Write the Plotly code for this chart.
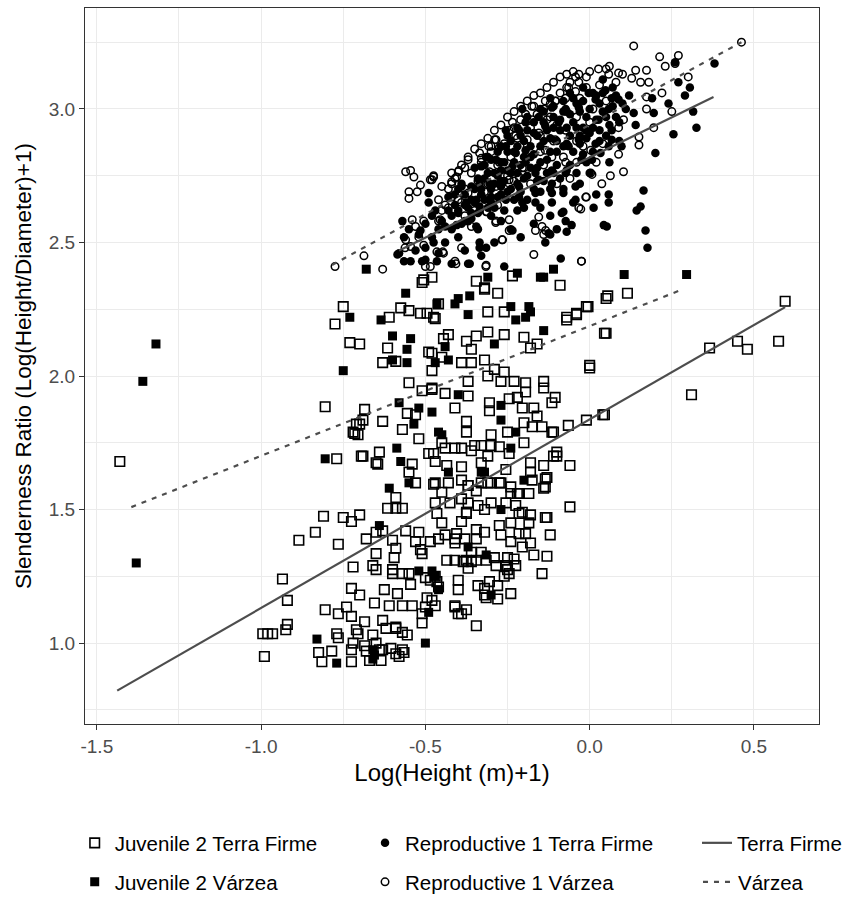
import plotly.graph_objects as go

# ---------------- data ----------------
juv_tf_pts = [
    (-1.43, 1.68), (-0.995, 1.035), (-0.98, 1.035), (-0.965, 1.035), (-0.99, 0.95), (-0.935, 1.24), (-0.92, 1.16),
    (-0.92, 1.07), (-0.925, 1.05), (-0.885, 1.385), (-0.835, 1.415), (-0.81, 1.475), (-0.765, 1.37), (-0.75, 1.47),
    (-0.725, 1.455), (-0.70, 1.48), (-0.805, 1.125), (-0.765, 1.11), (-0.74, 1.135), (-0.725, 1.10), (-0.685, 1.08),
    (-0.72, 1.285), (-0.68, 1.39), (-0.65, 1.335), (-0.66, 1.29), (-0.65, 1.275), (-0.725, 1.205), (-0.70, 1.18),
    (-0.655, 1.15), (-0.61, 1.14), (-0.625, 1.20), (-0.585, 1.185), (-0.57, 1.14), (-0.54, 1.14), (-0.60, 1.26),
    (-0.57, 1.26), (-0.545, 1.22), (-0.615, 1.505), (-0.59, 1.505), (-0.57, 1.505), (-0.59, 1.545), (-0.60, 1.385),
    (-0.59, 1.355), (-0.595, 1.32), (-0.65, 1.415), (-0.63, 1.42), (-0.56, 1.42), (-0.52, 1.415), (-0.53, 1.38),
    (-0.515, 1.35), (-0.485, 1.38), (-0.46, 1.39), (-0.51, 1.335), (-0.60, 1.275), (-0.55, 1.26), (-0.50, 1.245),
    (-0.485, 1.235), (-0.465, 1.23), (-0.46, 1.21), (-0.495, 1.17), (-0.48, 1.16), (-0.50, 1.135), (-0.51, 1.11),
    (-0.51, 1.075), (-0.47, 1.14), (-0.47, 1.25), (-0.45, 1.565), (-0.47, 1.525), (-0.465, 1.485), (-0.45, 1.45),
    (-0.44, 1.405), (-0.41, 1.39), (-0.41, 1.375), (-0.435, 1.31), (-0.41, 1.31), (-0.385, 1.305), (-0.40, 1.235),
    (-0.40, 1.20), (-0.41, 1.14), (-0.39, 1.11), (-0.375, 1.125), (-0.345, 1.065), (-0.37, 1.59), (-0.39, 1.54),
    (-0.375, 1.49), (-0.39, 1.455), (-0.345, 1.425), (-0.32, 1.415), (-0.38, 1.39), (-0.345, 1.39), (-0.36, 1.34),
    (-0.33, 1.34), (-0.345, 1.31), (-0.315, 1.31), (-0.29, 1.32), (-0.285, 1.29), (-0.255, 1.29), (-0.23, 1.315),
    (-0.245, 1.26), (-0.37, 1.28), (-0.34, 1.215), (-0.32, 1.205), (-0.28, 1.215), (-0.24, 1.185), (-0.315, 1.17),
    (-0.32, 1.18), (-0.28, 1.165), (-0.41, 1.135), (-0.40, 1.11), (-0.425, 1.525), (-0.33, 1.60), (-0.27, 1.60),
    (-0.24, 1.585), (-0.215, 1.56), (-0.225, 1.515), (-0.205, 1.49), (-0.18, 1.48), (-0.185, 1.45), (-0.195, 1.41),
    (-0.18, 1.375), (-0.205, 1.36), (-0.17, 1.33), (-0.13, 1.47), (-0.12, 1.405), (-0.13, 1.325), (-0.145, 1.26),
    (-0.06, 1.51), (-0.135, 1.585), (-0.24, 1.56),
    (-0.57, 1.04), (-0.59, 1.06), (-0.555, 1.03), (-0.65, 1.00), (-0.63, 0.975), (-0.605, 0.98), (-0.59, 0.96),
    (-0.57, 0.975), (-0.58, 0.95), (-0.825, 0.965), (-0.815, 0.93), (-0.785, 0.97), (-0.725, 0.975), (-0.725, 0.93),
    (-0.72, 1.00), (-0.705, 1.035), (-0.685, 0.99), (-0.68, 0.97), (-0.67, 0.935), (-0.64, 0.975), (-0.635, 0.935),
    (-0.77, 1.035), (-0.765, 1.02), (-0.71, 1.05), (-0.66, 1.03), (-0.62, 1.055), (-0.63, 1.085), (-0.59, 1.055),
    (-0.565, 0.965),
    (-0.275, 1.44), (-0.27, 1.405), (-0.24, 1.45), (-0.215, 1.41), (-0.24, 1.38), (-0.215, 1.485), (-0.185, 1.56),
    (-0.175, 1.61), (-0.30, 1.60), (-0.345, 1.57), (-0.37, 1.525), (-0.34, 1.515), (-0.32, 1.50), (-0.30, 1.525),
    (-0.255, 1.525), (-0.375, 1.485), (-0.405, 1.41), (-0.375, 1.31), (-0.36, 1.305), (-0.25, 1.32), (-0.225, 1.29),
    (-0.25, 1.275), (-0.26, 1.25), (-0.305, 1.23),
    (-0.75, 2.26), (-0.775, 2.195), (-0.73, 2.125), (-0.70, 2.12), (-0.505, 2.36), (-0.575, 2.255), (-0.55, 2.245),
    (-0.61, 2.22), (-0.515, 2.235), (-0.495, 2.235), (-0.47, 2.215), (-0.46, 2.27), (-0.615, 2.105), (-0.63, 2.05),
    (-0.59, 2.055), (-0.49, 2.09), (-0.48, 2.02), (-0.45, 2.07), (-0.55, 1.975), (-0.51, 1.945), (-0.48, 1.955),
    (-0.805, 1.885), (-0.685, 1.875), (-0.69, 1.835), (-0.71, 1.82), (-0.72, 1.79), (-0.705, 1.78), (-0.63, 1.83),
    (-0.555, 1.86), (-0.53, 1.855), (-0.57, 1.80), (-0.52, 1.765), (-0.69, 1.70), (-0.64, 1.715), (-0.77, 1.69),
    (-0.645, 1.67), (-0.54, 1.67), (-0.49, 1.71), (-0.55, 1.64), (-0.53, 1.60), (-0.475, 1.595),
    (-0.28, 2.31), (-0.32, 2.33), (-0.31, 2.24), (-0.26, 2.24), (-0.475, 2.22), (-0.005, 2.26), (-0.04, 2.235),
    (-0.07, 2.22), (0.05, 2.29), (0.05, 2.16), (0.0, 2.04), (-0.31, 2.165), (-0.26, 2.155), (-0.20, 2.145),
    (-0.345, 2.15), (-0.16, 2.12), (-0.18, 2.105), (-0.43, 2.155), (-0.445, 2.14), (-0.375, 2.13), (-0.36, 2.10),
    (-0.32, 2.06), (-0.48, 2.085), (-0.39, 2.05), (-0.36, 2.05), (-0.29, 2.025), (-0.26, 2.015), (-0.31, 2.00),
    (-0.27, 1.98), (-0.37, 1.98), (-0.23, 1.98), (-0.195, 1.975), (-0.14, 1.98), (-0.14, 1.955), (-0.195, 1.94),
    (-0.105, 1.92), (-0.245, 1.915), (-0.22, 1.92), (-0.48, 1.95), (-0.44, 1.935), (-0.37, 1.925), (-0.41, 1.88),
    (-0.305, 1.90), (-0.305, 1.87), (-0.205, 1.88), (-0.17, 1.88), (-0.16, 1.85), (-0.145, 1.81), (-0.175, 1.81),
    (-0.375, 1.83), (-0.375, 1.79), (-0.30, 1.78), (-0.25, 1.79), (-0.20, 1.825), (-0.115, 1.79), (-0.065, 1.815),
    (-0.01, 1.835), (0.04, 1.855), (-0.10, 1.715), (-0.10, 1.70), (-0.06, 1.665), (-0.14, 1.665), (-0.18, 1.675),
    (-0.20, 1.75), (-0.45, 1.75), (-0.44, 1.73), (-0.41, 1.73), (-0.39, 1.73), (-0.35, 1.74), (-0.33, 1.74),
    (-0.30, 1.74), (-0.275, 1.735), (-0.36, 1.72), (-0.475, 1.71), (-0.47, 1.68), (-0.435, 1.665), (-0.39, 1.66),
    (-0.31, 1.70), (-0.245, 1.71), (-0.255, 1.65), (-0.18, 1.64), (-0.135, 1.615), (-0.14, 1.58), (-0.47, 1.60),
    (-0.43, 1.60), (-0.39, 1.61), (-0.37, 1.59), (-0.31, 1.60), (-0.275, 1.60), (-0.22, 1.56), (-0.33, 1.675),
    (-0.09, 2.34), (0.055, 2.30), (0.115, 2.31), (-0.01, 2.26), (-0.04, 2.23), (-0.07, 2.21), (0.045, 2.16),
    (0.0, 2.03), (0.595, 2.28), (0.575, 2.13), (0.45, 2.13), (0.48, 2.10), (0.365, 2.105), (0.31, 1.93),
    (0.045, 1.855), (-0.11, 1.79), (-0.115, 1.90), (-0.11, 1.70), (-0.13, 1.62), (-0.135, 1.47),
    (-0.51, 2.35), (-0.48, 2.37), (-0.345, 2.355), (-0.32, 2.325), (-0.235, 2.375),
    (-0.695, 1.70), (-0.65, 1.675), (-0.715, 1.785), (-0.70, 1.82),
]

juv_vz_pts = [
    (-1.36, 1.98), (-1.32, 2.12), (-1.38, 1.30),
    (-0.56, 2.31), (-0.73, 2.22), (-0.635, 2.21), (-0.60, 2.15), (-0.545, 2.14), (-0.556, 2.10), (-0.556, 2.05),
    (-0.60, 2.06), (-0.75, 2.02), (-0.58, 1.90), (-0.52, 1.88), (-0.48, 1.865), (-0.535, 1.82), (-0.805, 1.69),
    (-0.587, 1.73), (-0.575, 1.68), (-0.55, 1.60), (-0.61, 1.58), (-0.47, 2.05), (-0.465, 2.27), (-0.46, 1.79),
    (-0.44, 2.11), (-0.365, 2.30), (-0.40, 2.29), (-0.41, 2.27), (-0.37, 2.23), (-0.24, 2.26), (-0.185, 2.26),
    (-0.18, 2.24), (-0.195, 2.22), (-0.225, 2.21), (-0.14, 2.17), (-0.29, 2.12), (-0.43, 2.06), (-0.40, 1.93),
    (-0.27, 1.89), (-0.27, 1.835), (-0.45, 1.78), (-0.225, 1.79), (-0.24, 1.73), (-0.20, 1.61), (-0.33, 1.64),
    (-0.43, 1.64), (-0.14, 2.37), (-0.11, 2.40), (0.105, 2.38), (0.295, 2.38), (-0.68, 2.40), (-0.31, 2.37),
    (-0.22, 2.385), (-0.15, 2.37), (-0.64, 1.44), (-0.83, 1.015), (-0.77, 0.925), (-0.52, 1.27), (-0.48, 1.27),
    (-0.27, 1.50), (-0.50, 1.00), (-0.66, 0.94), (-0.66, 0.975), (-0.37, 1.36), (-0.315, 1.33), (-0.49, 1.115),
    (-0.32, 1.64), (-0.47, 1.25), (-0.46, 1.20), (-0.655, 0.955), (-0.30, 1.18),
]

rep_tf_pts = [
    (0.26, 3.175), (0.27, 3.10), (0.305, 3.08), (0.29, 3.05), (0.24, 3.02), (0.315, 2.99), (0.325, 2.93),
    (0.255, 2.905), (0.20, 2.835), (0.38, 3.17), (0.134, 2.985), (0.195, 2.985), (0.19, 3.04), (0.097, 2.86),
    (0.058, 2.86), (0.164, 2.695), (0.155, 2.635), (0.143, 2.62), (0.17, 2.545), (0.176, 2.48), (0.058, 2.68),
    (0.058, 2.65), (0.012, 2.63), (0.052, 2.56), (0.043, 2.565), (-0.055, 2.565), (-0.073, 2.58), (-0.08, 2.615),
    (-0.07, 2.54), (-0.088, 2.44), (-0.125, 2.535), (-0.135, 2.50), (-0.235, 2.545), (-0.26, 2.41), (-0.345, 2.56),
    (-0.335, 2.50), (-0.315, 2.48), (-0.37, 2.42), (-0.49, 2.685), (-0.49, 2.65), (-0.57, 2.58), (-0.565, 2.52),
    (-0.58, 2.46), (-0.565, 2.43), (-0.545, 2.43), (-0.50, 2.435), (-0.475, 2.50), (-0.465, 2.43), (-0.515, 2.545),
    (-0.405, 2.565), (-0.38, 2.58), (-0.375, 2.65), (-0.345, 2.66), (-0.39, 2.71), (-0.335, 2.72), (-0.305, 2.72),
    (-0.27, 2.71), (-0.27, 2.77), (-0.215, 2.71), (-0.205, 2.65), (-0.165, 2.65), (-0.115, 2.65), (-0.08, 2.685),
    (-0.043, 2.71), (-0.043, 2.66), (-0.115, 2.72), (-0.155, 2.735), (-0.225, 2.835), (-0.195, 2.845),
    (-0.255, 2.86), (-0.215, 2.92), (-0.195, 2.95), (-0.155, 2.97), (-0.115, 3.005), (-0.073, 3.00), (-0.033, 3.005),
    (-0.003, 3.06), (0.018, 3.035), (0.048, 3.07), (0.067, 3.04), (0.088, 3.035), (0.058, 3.00), (0.027, 2.96),
    (-0.012, 2.92), (-0.033, 2.885), (-0.064, 2.86), (-0.094, 2.95), (-0.135, 2.935), (-0.073, 2.76),
    (-0.115, 2.77), (-0.165, 2.76), (-0.195, 2.80), (-0.235, 2.785), (-0.285, 2.81), (-0.315, 2.82), (-0.33, 2.785),
    (-0.255, 2.92), (-0.205, 3.00), (0.018, 2.87), (0.033, 2.835), (0.007, 2.81), (-0.025, 2.81), (0.067, 2.92),
    (0.067, 2.885), (-0.115, 2.685), (-0.165, 2.685), (-0.215, 2.67), (-0.255, 2.66), (-0.30, 2.65),
    (-0.335, 2.635), (-0.36, 2.61), (-0.40, 2.61), (-0.585, 2.455), (-0.51, 2.43), (-0.42, 2.42), (-0.365, 2.42),
    (-0.335, 2.48), (-0.085, 2.61), (-0.12, 2.53),
    (-0.40, 2.62), (-0.38, 2.64), (-0.36, 2.66), (-0.35, 2.70), (-0.33, 2.68), (-0.32, 2.74), (-0.31, 2.63),
    (-0.30, 2.70), (-0.29, 2.76), (-0.28, 2.67), (-0.27, 2.73), (-0.26, 2.80), (-0.25, 2.69), (-0.24, 2.76),
    (-0.23, 2.84), (-0.22, 2.72), (-0.21, 2.79), (-0.20, 2.88), (-0.20, 2.63), (-0.19, 2.75), (-0.18, 2.82),
    (-0.17, 2.91), (-0.17, 2.70), (-0.16, 2.78), (-0.15, 2.86), (-0.14, 2.95), (-0.14, 2.73), (-0.13, 2.81),
    (-0.12, 2.89), (-0.11, 2.97), (-0.11, 2.76), (-0.10, 2.84), (-0.09, 2.92), (-0.08, 2.70), (-0.08, 2.99),
    (-0.07, 2.87), (-0.06, 2.79), (-0.05, 2.95), (-0.05, 2.65), (-0.04, 3.02), (-0.03, 2.90), (-0.02, 2.83),
    (-0.01, 2.97), (0.0, 2.76), (0.01, 2.93), (0.02, 3.05), (0.03, 2.88), (0.04, 2.99), (0.06, 2.94), (0.07, 3.08),
    (0.08, 2.97), (0.10, 3.02), (-0.45, 2.58), (-0.43, 2.62), (-0.42, 2.55), (-0.44, 2.50), (-0.37, 2.58),
    (-0.34, 2.55), (-0.30, 2.60), (-0.27, 2.58), (-0.22, 2.62), (-0.12, 2.60), (-0.10, 2.55), (-0.35, 2.78),
    (-0.31, 2.82), (-0.27, 2.86), (-0.25, 2.90), (-0.22, 2.93), (-0.19, 2.97), (-0.15, 3.00), (-0.12, 3.04),
    (-0.06, 3.06), (-0.02, 3.08), (0.04, 3.11), (0.12, 3.05), (0.14, 2.94), (0.09, 2.88), (0.06, 2.80),
    (-0.39, 2.72), (-0.41, 2.68), (-0.47, 2.62), (-0.52, 2.53), (-0.50, 2.48), (-0.46, 2.46), (-0.40, 2.52),
    (-0.38, 2.47), (-0.33, 2.45), (-0.29, 2.50), (-0.24, 2.55), (-0.21, 2.52), (-0.17, 2.57), (-0.15, 2.63),
    (-0.03, 2.72), (0.02, 2.68),
    (-0.44, 2.56), (-0.43, 2.67), (-0.42, 2.60), (-0.41, 2.64), (-0.40, 2.70), (-0.39, 2.57), (-0.38, 2.68),
    (-0.37, 2.63), (-0.36, 2.71), (-0.36, 2.59), (-0.35, 2.65), (-0.34, 2.74), (-0.34, 2.61), (-0.33, 2.70),
    (-0.32, 2.66), (-0.32, 2.79), (-0.31, 2.76), (-0.30, 2.67), (-0.30, 2.81), (-0.29, 2.72), (-0.29, 2.63),
    (-0.28, 2.84), (-0.28, 2.75), (-0.27, 2.68), (-0.27, 2.80), (-0.26, 2.73), (-0.26, 2.62), (-0.25, 2.84),
    (-0.25, 2.77), (-0.24, 2.70), (-0.24, 2.88), (-0.23, 2.80), (-0.23, 2.66), (-0.22, 2.86), (-0.22, 2.76),
    (-0.21, 2.90), (-0.21, 2.69), (-0.20, 2.82), (-0.20, 2.74), (-0.19, 2.92), (-0.19, 2.66), (-0.18, 2.86),
    (-0.18, 2.78), (-0.17, 2.95), (-0.17, 2.83), (-0.16, 2.73), (-0.16, 2.90), (-0.15, 2.80), (-0.15, 2.69),
    (-0.14, 2.88), (-0.14, 2.99), (-0.13, 2.76), (-0.13, 2.92), (-0.12, 2.84), (-0.12, 2.70), (-0.11, 2.93),
    (-0.11, 3.01), (-0.10, 2.79), (-0.10, 2.88), (-0.09, 2.96), (-0.09, 2.74), (-0.08, 2.86), (-0.08, 3.03),
    (-0.07, 2.93), (-0.07, 2.77), (-0.06, 2.90), (-0.06, 2.98), (-0.05, 2.84), (-0.05, 3.04), (-0.04, 2.93),
    (-0.04, 2.76), (-0.03, 2.99), (-0.03, 2.87), (-0.02, 3.03), (-0.02, 2.93), (-0.01, 2.80), (-0.01, 2.89),
    (0.0, 3.00), (0.0, 2.91), (0.01, 3.06), (0.01, 2.84), (0.02, 2.96), (0.03, 3.02), (0.03, 2.92), (0.04, 3.06),
    (0.05, 2.90), (0.05, 2.97), (0.07, 3.01), (0.08, 3.05), (0.09, 2.95), (0.11, 3.00), (-0.48, 2.52),
    (-0.46, 2.55), (-0.53, 2.47), (-0.55, 2.55), (-0.50, 2.57), (-0.48, 2.60),
]

rep_vz_pts = [
    (0.462, 3.25), (0.134, 3.236), (0.213, 3.195), (0.27, 3.20), (0.027, 3.15), (0.06, 3.16), (0.058, 3.13),
    (0.088, 3.135), (0.14, 3.145), (0.173, 3.145), (0.128, 3.115), (0.155, 3.10), (0.18, 3.10), (0.173, 3.045),
    (0.22, 3.06), (0.173, 3.00), (0.25, 2.99), (0.15, 2.895), (0.15, 2.865), (0.195, 2.93), (0.103, 2.765),
    (0.063, 2.75), (0.037, 2.72), (0.088, 2.83), (0.103, 2.96), (-0.012, 2.67), (-0.027, 2.625), (-0.025, 2.43),
    (0.003, 2.76), (0.088, 2.93), (0.003, 2.845), (0.007, 2.755),
    (-0.033, 3.13), (-0.064, 3.08), (-0.033, 3.10), (-0.01, 3.08), (-0.043, 3.065), (-0.135, 3.03), (-0.105, 3.03),
    (-0.073, 3.04), (-0.17, 3.01), (-0.14, 3.00), (-0.195, 2.98), (-0.175, 2.96), (-0.235, 2.95), (-0.245, 2.92),
    (-0.225, 2.90), (-0.285, 2.885), (-0.30, 2.86), (-0.275, 2.855), (-0.335, 2.835), (-0.33, 2.815), (-0.37, 2.81),
    (-0.38, 2.78), (-0.40, 2.765), (-0.405, 2.745), (-0.42, 2.72), (-0.475, 2.745), (-0.485, 2.735),
    (-0.515, 2.715), (-0.535, 2.745), (-0.56, 2.765), (-0.545, 2.77), (-0.55, 2.69), (-0.525, 2.69), (-0.55, 2.665),
    (-0.42, 2.67), (-0.39, 2.65), (-0.38, 2.60), (-0.43, 2.63), (-0.455, 2.585), (-0.505, 2.58), (-0.53, 2.56),
    (-0.52, 2.52), (-0.56, 2.51), (-0.545, 2.485), (-0.505, 2.49), (-0.465, 2.465), (-0.445, 2.46), (-0.39, 2.48),
    (-0.41, 2.43), (-0.485, 2.41), (-0.63, 2.40), (-0.315, 2.415), (-0.36, 2.56), (-0.315, 2.615), (-0.285, 2.58),
    (-0.245, 2.585), (-0.265, 2.51), (-0.245, 2.545), (-0.165, 2.545), (-0.145, 2.56), (-0.14, 2.53),
    (-0.155, 2.595), (-0.17, 2.455), (-0.025, 2.43), (-0.01, 2.67), (-0.033, 2.63),
    (-0.073, 2.80), (-0.04, 2.80), (-0.115, 2.82), (-0.105, 2.885), (-0.073, 2.92), (-0.135, 2.845),
    (-0.19, 2.885), (-0.155, 2.91), (-0.205, 2.78), (-0.215, 2.745), (-0.245, 2.735), (-0.285, 2.71),
    (-0.305, 2.765), (-0.33, 2.67), (-0.275, 2.80), (-0.37, 2.685),
    (-0.775, 2.41), (-0.687, 2.45), (-0.562, 2.48), (-0.54, 2.585), (-0.46, 2.58), (-0.447, 2.465), (-0.50, 2.41),
    (-0.407, 2.42), (-0.316, 2.41), (-0.286, 2.575), (-0.267, 2.51), (-0.398, 2.77), (-0.42, 2.727),
    (-0.313, 2.615), (-0.289, 2.885), (-0.307, 2.86), (-0.23, 2.93), (-0.176, 3.01), (-0.103, 3.03),
    (-0.07, 3.08), (-0.043, 3.12), (-0.134, 2.545), (-0.475, 2.75), (-0.48, 2.735),
    (-0.36, 2.76), (-0.34, 2.73), (-0.33, 2.80), (-0.30, 2.84), (-0.28, 2.79), (-0.26, 2.87), (-0.24, 2.82),
    (-0.22, 2.89), (-0.21, 2.96), (-0.19, 2.86), (-0.18, 2.93), (-0.16, 2.98), (-0.15, 2.90), (-0.13, 2.96),
    (-0.12, 3.02), (-0.10, 2.94), (-0.09, 3.06), (-0.07, 2.99), (-0.06, 3.10), (-0.04, 2.97), (-0.03, 3.04),
    (-0.01, 3.12), (0.01, 3.00), (0.03, 3.09), (0.05, 3.03), (0.08, 3.10), (-0.43, 2.70), (-0.46, 2.66),
    (-0.44, 2.64), (-0.41, 2.74), (-0.38, 2.70), (-0.25, 2.75), (-0.20, 2.78), (-0.11, 2.88), (-0.08, 2.82),
    (-0.02, 2.86), (0.02, 2.80), (-0.31, 2.72), (-0.35, 2.62), (-0.28, 2.64),
    (0.23, 3.16), (0.26, 3.17), (0.30, 3.12),
    (-0.45, 2.71), (-0.42, 2.76), (-0.39, 2.79), (-0.37, 2.82), (-0.35, 2.85), (-0.33, 2.87), (-0.31, 2.89),
    (-0.29, 2.92), (-0.27, 2.94), (-0.25, 2.97), (-0.23, 2.99), (-0.21, 3.01), (-0.19, 3.03), (-0.17, 3.05),
    (-0.15, 3.06), (-0.13, 3.08), (-0.11, 3.10), (-0.09, 3.12), (-0.07, 3.13), (-0.05, 3.14), (0.0, 3.14),
    (0.05, 3.15), (0.10, 3.13), (-0.26, 2.70), (-0.23, 2.73), (-0.18, 2.72), (-0.14, 2.79), (-0.10, 2.72),
    (-0.06, 2.74), (-0.15, 2.84), (-0.12, 2.97), (-0.04, 2.88), (0.0, 2.95), (0.04, 2.87), (-0.32, 2.69),
    (-0.40, 2.66), (-0.45, 2.62),
]

# fitted lines (endpoints)
tf_juv_line_x = [-1.438, 0.595]
tf_juv_line_y = [0.822, 2.258]
vz_juv_line_x = [-1.395, 0.286]
vz_juv_line_y = [1.509, 2.326]
tf_rep_line_x = [-0.58, 0.377]
tf_rep_line_y = [2.47, 3.045]
vz_rep_line_x = [-0.784, 0.462]
vz_rep_line_y = [2.416, 3.25]

x_ticks = [-1.5, -1.0, -0.5, 0.0, 0.5]
y_ticks = [1.0, 1.5, 2.0, 2.5, 3.0]


def xs(pts):
    return [p[0] for p in pts]


def ys(pts):
    return [p[1] for p in pts]


FONT = "Liberation Sans, Arial, sans-serif"
LINE_COL = "#4d4d4d"

fig = go.Figure()

fig.add_trace(go.Scatter(
    x=xs(juv_tf_pts), y=ys(juv_tf_pts), mode="markers", name="Juvenile 2 Terra Firme",
    marker=dict(symbol="square-open", size=9.5, color="black", line=dict(width=1.6, color="black")),
    legend="legend", showlegend=True))
fig.add_trace(go.Scatter(
    x=xs(juv_vz_pts), y=ys(juv_vz_pts), mode="markers", name="Juvenile 2 Várzea",
    marker=dict(symbol="square", size=9, color="black", line=dict(width=0)),
    legend="legend2"))
fig.add_trace(go.Scatter(
    x=xs(rep_tf_pts), y=ys(rep_tf_pts), mode="markers", name="Reproductive 1 Terra Firme",
    marker=dict(symbol="circle", size=8.5, color="black", line=dict(width=0)),
    legend="legend3"))
fig.add_trace(go.Scatter(
    x=xs(rep_vz_pts), y=ys(rep_vz_pts), mode="markers", name="Reproductive 1 Várzea",
    marker=dict(symbol="circle-open", size=7.5, color="black", line=dict(width=1.5, color="black")),
    legend="legend4"))

fig.add_trace(go.Scatter(x=tf_juv_line_x, y=tf_juv_line_y, mode="lines", name="Terra Firme",
                         line=dict(color=LINE_COL, width=2.2), legend="legend5", legendgroup="tf"))
fig.add_trace(go.Scatter(x=tf_rep_line_x, y=tf_rep_line_y, mode="lines", name="Terra Firme",
                         line=dict(color=LINE_COL, width=2.2), legend="legend5", legendgroup="tf",
                         showlegend=False))
fig.add_trace(go.Scatter(x=vz_juv_line_x, y=vz_juv_line_y, mode="lines", name="Várzea",
                         line=dict(color=LINE_COL, width=2.2, dash="5px,6px"), legend="legend6",
                         legendgroup="vz"))
fig.add_trace(go.Scatter(x=vz_rep_line_x, y=vz_rep_line_y, mode="lines", name="Várzea",
                         line=dict(color=LINE_COL, width=2.2, dash="5px,6px"), legend="legend6",
                         legendgroup="vz", showlegend=False))

axis_common = dict(
    showgrid=True, gridcolor="#ebebeb", gridwidth=1.2,
    zeroline=False, showline=True, mirror=True, linecolor="#333333", linewidth=1.3,
    ticks="outside", ticklen=5, tickwidth=1.2, tickcolor="#333333",
    tickfont=dict(family=FONT, size=19, color="#4d4d4d"),
)

# figure geometry: plot area spans x 85..820 px and y 8..724 px
TOP_GAP = 8
PLOT_H = 902 - 178  # paper height (t margin = 0)

fig.update_xaxes(
    range=[-1.536, 0.698], tickvals=x_ticks, ticktext=[f"{v:.1f}" for v in x_ticks],
    minor=dict(dtick=0.25, tick0=0, showgrid=True, gridcolor="#ebebeb", gridwidth=0.7, ticks=""),
    title=dict(text="Log(Height (m)+1)", font=dict(family=FONT, size=24, color="black"), standoff=8),
    **axis_common)
fig.update_yaxes(
    range=[0.697, 3.378], tickvals=y_ticks, ticktext=[f"{v:.1f}" for v in y_ticks],
    domain=[0, 1 - TOP_GAP / PLOT_H],
    minor=dict(dtick=0.25, tick0=0, showgrid=True, gridcolor="#ebebeb", gridwidth=0.7, ticks=""),
    title=dict(text="Slenderness Ratio (Log(Height/Diameter)+1)",
               font=dict(family=FONT, size=22.5, color="black"), standoff=10),
    **axis_common)

row1_y = (724 - 843) / PLOT_H
row2_y = (724 - 882) / PLOT_H
col_x = [-0.014, 0.381, 0.834]


def leg(x, y):
    return dict(orientation="v", xanchor="left", yanchor="middle", x=x, y=y,
                bgcolor="rgba(0,0,0,0)", borderwidth=0,
                font=dict(family=FONT, size=20.5, color="black"), itemsizing="trace")


fig.update_layout(
    width=847, height=902,
    margin=dict(l=85, r=27, t=0, b=178),
    paper_bgcolor="white", plot_bgcolor="white",
    font=dict(family=FONT),
    showlegend=True,
    legend=leg(col_x[0], row1_y),
    legend2=leg(col_x[0], row2_y),
    legend3=leg(col_x[1], row1_y),
    legend4=leg(col_x[1], row2_y),
    legend5=leg(col_x[2], row1_y),
    legend6=leg(col_x[2], row2_y),
)

fig.write_html("out.html")
